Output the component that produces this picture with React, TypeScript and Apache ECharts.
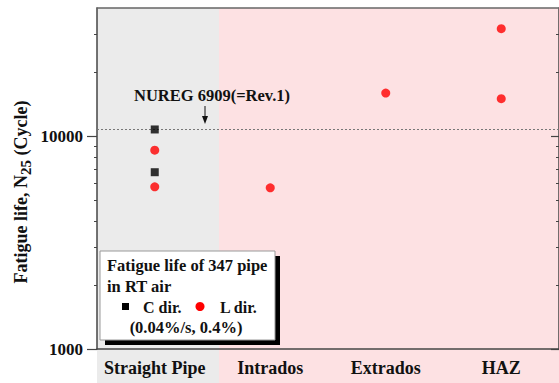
import React, { useEffect, useRef } from "react";
import * as echarts from "echarts";

const categories = ["Straight Pipe", "Intrados", "Extrados", "HAZ"];
const cDirCategory = ["Straight Pipe", "Straight Pipe"];
const cDirLife = [10750, 6770];
const lDirCategory = ["Straight Pipe", "Straight Pipe", "Intrados", "Extrados", "HAZ", "HAZ"];
const lDirLife = [8590, 5780, 5720, 15930, 32000, 15000];
const nuregLife = 10750;
const majorTicks = [1000, 10000];
const minorTicks = [2000, 3000, 4000, 5000, 6000, 7000, 8000, 9000, 20000, 30000];

const FONT = "'Liberation Serif', 'Times New Roman', serif";
const INK = "#111";

export default function App() {
  const ref = useRef<HTMLDivElement>(null);
  useEffect(() => {
    if (!ref.current) return;
    const chart = echarts.init(ref.current, null, { renderer: "svg" });
    const yBase = { type: "log", logBase: 10, min: 1000, max: 40000, splitLine: { show: false } };
    const option: any = {
      animation: false,
      grid: { left: 97, top: 8, width: 465, height: 341, containLabel: false },
      xAxis: [
        {
          type: "category",
          data: categories,
          boundaryGap: true,
          axisLine: { lineStyle: { color: "#444", width: 1.5 } },
          axisTick: { alignWithLabel: true, length: 6, lineStyle: { color: "#444", width: 1.5 } },
          axisLabel: { interval: 0, hideOverlap: false, fontFamily: FONT, fontWeight: "bold", fontSize: 18, color: INK, margin: 10 },
          splitLine: { show: false },
        },
        {
          type: "category",
          data: categories,
          position: "top",
          axisLine: { lineStyle: { color: "#666", width: 1.5 } },
          axisTick: { show: false },
          axisLabel: { show: false },
        },
      ],
      yAxis: [
        {
          ...yBase,
          position: "left",
          axisLine: { show: true, lineStyle: { color: "#444", width: 1.5 } },
          axisTick: { show: true, length: 10, customValues: majorTicks, lineStyle: { color: "#444", width: 1.2 } },
          axisLabel: {
            customValues: majorTicks,
            fontFamily: FONT,
            fontWeight: "bold",
            fontSize: 17,
            color: INK,
            margin: 14,
            formatter: (v: number) => String(Math.round(v)),
          },
        },
        {
          ...yBase,
          position: "left",
          axisLine: { show: false },
          axisTick: { show: true, length: 3, customValues: minorTicks, lineStyle: { color: "#444", width: 1 } },
          axisLabel: { show: false },
        },
        {
          ...yBase,
          position: "right",
          axisLine: { show: true, lineStyle: { color: "#444", width: 1.5 } },
          axisTick: { show: true, inside: true, length: 8, customValues: majorTicks, lineStyle: { color: "#444", width: 1.2 } },
          axisLabel: { show: false },
        },
        {
          ...yBase,
          position: "right",
          axisLine: { show: false },
          axisTick: { show: true, inside: true, length: 3, customValues: minorTicks, lineStyle: { color: "#444", width: 1 } },
          axisLabel: { show: false },
        },
      ],
      series: [
        {
          name: "C dir.",
          type: "scatter",
          symbol: "rect",
          symbolSize: 8,
          itemStyle: { color: "#000" },
          data: cDirCategory.map((c, i) => [c, cDirLife[i]]),
          z: 5,
          markLine: {
            silent: true,
            symbol: "none",
            label: { show: false },
            lineStyle: { color: "#777", type: [2, 2], width: 1 },
            data: [{ yAxis: nuregLife }],
            z: 3,
          },
        },
        {
          name: "L dir.",
          type: "scatter",
          symbol: "circle",
          symbolSize: 9,
          itemStyle: { color: "#ff0000" },
          data: lDirCategory.map((c, i) => [c, lDirLife[i]]),
          z: 5,
        },
      ],
      graphic: [
        { type: "rect", z: -10, shape: { x: 97, y: 8, width: 122, height: 375 }, style: { fill: "#ebebeb" } },
        { type: "rect", z: -10, shape: { x: 219, y: 8, width: 345, height: 375 }, style: { fill: "#fde1e3" } },
        {
          type: "text",
          z: 10,
          x: 21,
          y: 192,
          rotation: Math.PI / 2,
          style: {
            text: "Fatigue life, N{sub|25} (Cycle)",
            fontFamily: FONT,
            fontWeight: "bold",
            fontSize: 18,
            fill: INK,
            align: "center",
            verticalAlign: "middle",
            rich: {
              sub: { fontFamily: FONT, fontWeight: "bold", fontSize: 15, fill: INK, padding: [10, 0, 0, 0] },
            },
          },
        },
        {
          type: "text",
          z: 10,
          x: 134,
          y: 95,
          style: {
            text: "NUREG 6909(=Rev.1)",
            fontFamily: FONT,
            fontWeight: "bold",
            fontSize: 16.5,
            fill: INK,
            align: "left",
            verticalAlign: "middle",
          },
        },
        { type: "line", z: 10, shape: { x1: 205, y1: 106, x2: 205, y2: 118 }, style: { stroke: "#111", lineWidth: 1 } },
        { type: "polygon", z: 10, shape: { points: [[202, 116], [208, 116], [205, 124]] }, style: { fill: "#111" } },
        { type: "rect", z: 20, shape: { x: 105, y: 256, width: 175, height: 89 }, style: { fill: "#000" } },
        { type: "rect", z: 21, shape: { x: 100, y: 251, width: 175, height: 89 }, style: { fill: "#fff", stroke: "#999", lineWidth: 1 } },
        {
          type: "text",
          z: 22,
          x: 107,
          y: 265,
          style: { text: "Fatigue life of 347 pipe", fontFamily: FONT, fontWeight: "bold", fontSize: 16.5, fill: INK, verticalAlign: "middle" },
        },
        {
          type: "text",
          z: 22,
          x: 107,
          y: 286,
          style: { text: "in RT air", fontFamily: FONT, fontWeight: "bold", fontSize: 16.5, fill: INK, verticalAlign: "middle" },
        },
        { type: "rect", z: 22, shape: { x: 122, y: 303, width: 7, height: 7 }, style: { fill: "#000" } },
        {
          type: "text",
          z: 22,
          x: 143,
          y: 307,
          style: { text: "C dir.", fontFamily: FONT, fontWeight: "bold", fontSize: 16, fill: INK, verticalAlign: "middle" },
        },
        { type: "circle", z: 22, shape: { cx: 200, cy: 306.5, r: 4.5 }, style: { fill: "#ff0000" } },
        {
          type: "text",
          z: 22,
          x: 220,
          y: 307,
          style: { text: "L dir.", fontFamily: FONT, fontWeight: "bold", fontSize: 16, fill: INK, verticalAlign: "middle" },
        },
        {
          type: "text",
          z: 22,
          x: 186,
          y: 327,
          style: { text: "(0.04%/s, 0.4%)", fontFamily: FONT, fontWeight: "bold", fontSize: 16.5, fill: INK, align: "center", verticalAlign: "middle" },
        },
      ],
    };
    chart.setOption(option);
    return () => chart.dispose();
  }, []);
  return <div ref={ref} style={{ width: 559, height: 383, position: "absolute", left: 0, top: 0 }} />;
}
